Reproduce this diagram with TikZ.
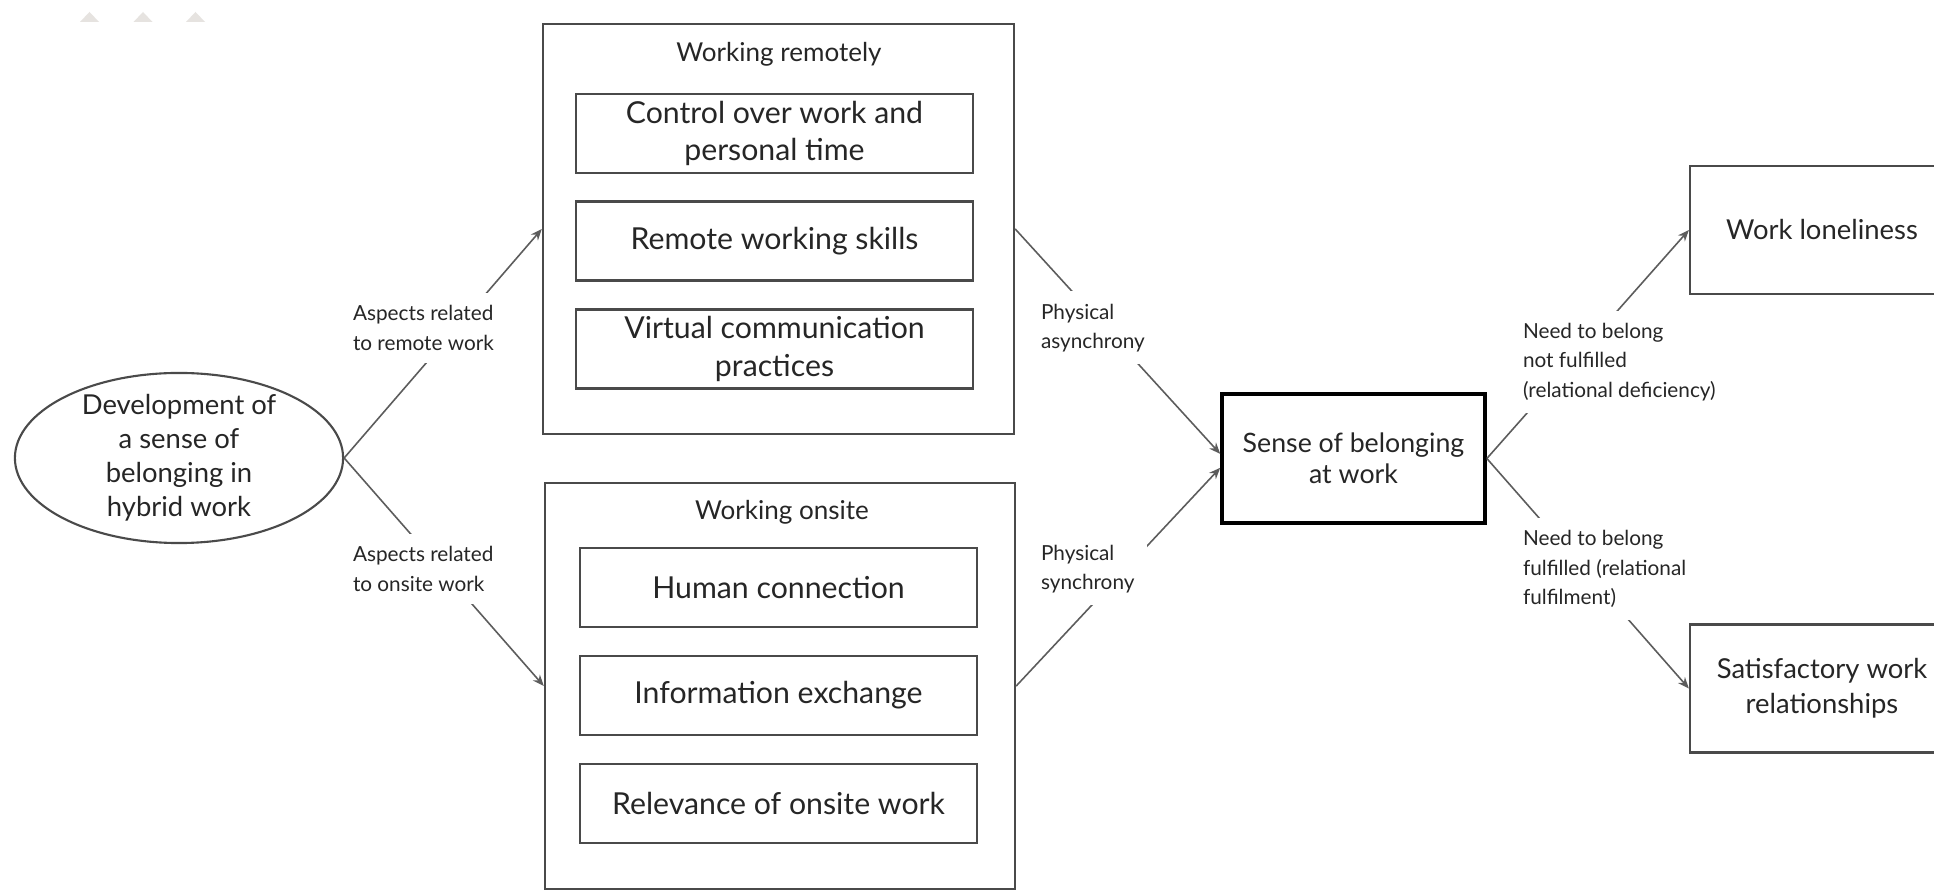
\documentclass[tikz,border=0pt]{standalone}
\usepackage{fontspec}
\setmainfont{Lato}
\usetikzlibrary{shapes.geometric,arrows.meta}

\begin{document}
\begin{tikzpicture}[x=0.01cm, y=-0.01cm,
  boxLine/.style={draw=boxGray, line width=0.6pt, text=textDark},
  groupBox/.style={boxLine, inner sep=0pt},
  itemBox/.style={boxLine, minimum width=3.97cm, minimum height=0.79cm, inner sep=0pt,
    align=center, font=\fontsize{8.6}{10.6}\selectfont},
  titleText/.style={text=textDark, inner sep=0pt, font=\fontsize{7.4}{9}\selectfont},
  outBox/.style={boxLine, minimum width=2.64cm, minimum height=1.28cm, inner sep=0pt,
    align=center, font=\fontsize{7.8}{10}\selectfont},
  lblText/.style={fill=white, text=textDark, inner sep=3.5pt, align=left, anchor=west,
    font=\fontsize{5.9}{8.4}\selectfont},
  conn/.style={draw=lineGray, line width=0.45pt},
  arrTip/.style={-{Stealth[length=3.2pt, width=2.6pt]}}
]

% Colours
\definecolor{textDark}{HTML}{262626}
\definecolor{boxGray}{HTML}{4A4A4A}
\definecolor{lineGray}{HTML}{5C5C5C}
\definecolor{wmGray}{HTML}{E6E3E0}

% Page
\path[fill=white, use as bounding box] (0,0) rectangle (1934,892);

% Faint marks top left
\foreach \tx in {89.5,143,195.5}
  \fill[wmGray] (\tx-9.5,22) -- (\tx,12) -- (\tx+9.5,22) -- cycle;

% Starting point
\node[draw=boxGray, line width=0.6pt, ellipse, minimum width=3.28cm, minimum height=1.70cm,
  inner xsep=0pt, inner ysep=-1.5pt, align=center, text=textDark,
  font=\fontsize{7.8}{9.7}\selectfont] (dev) at (179,458)
  {Development of\\a sense of\\belonging in\\hybrid work};

% Working remotely
\node[groupBox, minimum width=4.71cm, minimum height=4.10cm] (remote) at (778.5,229) {};
\node[titleText] (remoteTitle) at (779,54) {Working remotely};
\node[itemBox] (control) at (774.5,133.5) {Control over work and\\personal time};
\node[itemBox] (skills) at (774.5,241) {Remote working skills};
\node[itemBox] (virtual) at (774.5,349) {Virtual communication\\practices};

% Working onsite
\node[groupBox, minimum width=4.70cm, minimum height=4.06cm] (onsite) at (780,686) {};
\node[titleText] (onsiteTitle) at (782,512) {Working onsite};
\node[itemBox] (human) at (778.5,587.5) {Human connection};
\node[itemBox] (info) at (778.5,695.5) {Information exchange};
\node[itemBox] (relevance) at (778.5,803.5) {Relevance of onsite work};

% Sense of belonging
\node[draw=black, line width=1pt, text=textDark, minimum width=2.63cm, minimum height=1.29cm,
  inner sep=0pt, align=center, font=\fontsize{7.6}{8.8}\selectfont] (sense) at (1353.5,458.5)
  {Sense of belonging\\at work};

% Outcomes
\node[outBox] (lonely) at (1822,230) {Work loneliness};
\node[outBox] (satisf) at (1822,688.5) {Satisfactory work\\relationships};

% Connectors
\draw[conn, arrTip] (dev.east) -- (remote.west);
\draw[conn, arrTip] (dev.east) -- (onsite.west);
\draw[conn, arrTip] (remote.east) -- (sense.178);
\draw[conn, arrTip] (onsite.east) -- (sense.184);
\draw[conn, arrTip] (sense.east) -- (lonely.west);
\draw[conn, arrTip] (sense.east) -- (satisf.west);

% Connector labels
\node[lblText] (remoteLbl) at (340,328) {Aspects related\\to remote work};
\node[lblText] (onsiteLbl) at (340,569) {Aspects related\\to onsite work};
\node[lblText] (asyncLbl) at (1028,328) {Physical\\asynchrony};
\node[lblText] (syncLbl) at (1028,569) {Physical\\synchrony};
\node[lblText] (notLbl) at (1510,362) {Need to belong\\not fulfilled\\(relational deficiency)};
\node[lblText] (fulLbl) at (1510,569) {Need to belong\\fulfilled (relational\\fulfilment)};

\end{tikzpicture}
\end{document}
